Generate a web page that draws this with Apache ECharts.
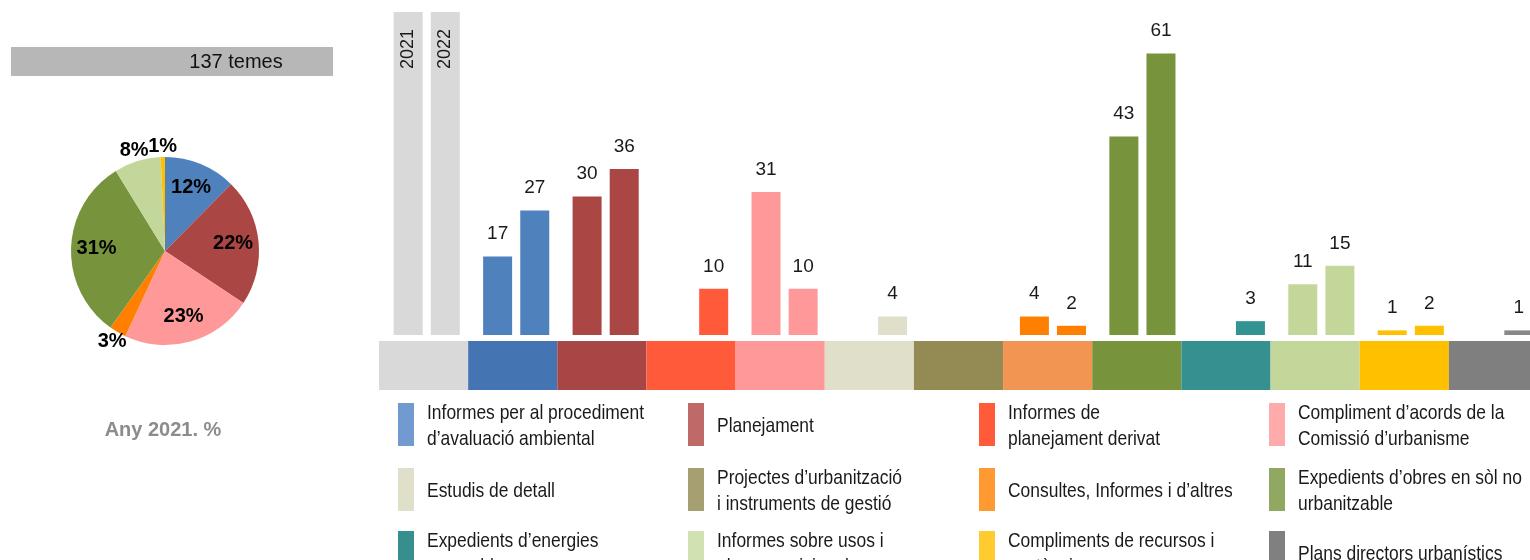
<!DOCTYPE html>
<html>
<head>
<meta charset="utf-8">
<script src="https://cdn.jsdelivr.net/npm/echarts@6/dist/echarts.min.js"></script>
<style>
html,body{margin:0;padding:0;background:#fff;}
#chart{width:1530px;height:560px;}
</style>
</head>
<body>
<div id="chart"></div>
<script>
// ---- data ----
const categories = [
  'Informes per al procediment\nd’avaluació ambiental',
  'Planejament',
  'Informes de\nplanejament derivat',
  'Compliment d’acords de la\nComissió d’urbanisme',
  'Estudis de detall',
  'Projectes d’urbanització\ni instruments de gestió',
  'Consultes, Informes i d’altres',
  'Expedients d’obres en sòl no\nurbanitzable',
  'Expedients d’energies\nrenovables',
  'Informes sobre usos i\nobres provisionals',
  'Compliments de recursos i\nsentències',
  'Plans directors urbanístics'
];
const years = ['2021', '2022'];
const values2021 = [17, 30, 0, 31, 0, 0, 4, 43, 0, 11, 1, 0];
const values2022 = [27, 36, 10, 10, 4, 0, 2, 61, 3, 15, 2, 1];
const yearKeyHeight = 70;   // height of the grey year-key bars
const pieTitle = 'Any 2021. %';

// ---- colours ----
const barColors   = ['#4f81bd','#aa4644','#ff5b3b','#ff9999','#e0dfca','#948a54','#ff8000','#77933c','#339393','#c4d79b','#ffc000','#888888'];
const stripColors = ['#d9d9d9','#4475b2','#a84646','#ff5b3b','#ff9999','#e0dfca','#948a54','#f29452','#77933c','#35908f','#c4d79b','#ffc000','#7f7f7f'];
const legendColors= ['#709ad0','#bf6a69','#ff5b3b','#ffabab','#e0dfca','#a59f72','#ff9a33','#91a862','#378f8d','#d2e1b1','#ffcb2e','#808080'];
const keyColor = '#d9d9d9';

const SANS = '"Liberation Sans", Arial, sans-serif';
const axisCats = [''].concat(categories);

function barSeries(yi, vals) {
  const data = [{
    value: yearKeyHeight,
    itemStyle: { color: keyColor },
    label: {
      show: true, formatter: years[yi], rotate: 90,
      position: ['50%', 37], align: 'center', verticalAlign: 'middle',
      fontSize: 18, color: '#1a1a1a', fontFamily: SANS
    }
  }].concat(vals.map((v, i) => ({ value: v, itemStyle: { color: barColors[i] } })));
  return {
    type: 'bar', name: years[yi], xAxisIndex: 0, yAxisIndex: 0,
    barWidth: 29, barGap: '28%', data: data,
    label: {
      show: true, position: 'top', distance: 13,
      formatter: p => (p.value > 0 ? String(p.value) : ''),
      fontSize: 19, color: '#1a1a1a', fontFamily: SANS
    },
    silent: true
  };
}

const total2021 = values2021.reduce((a, b) => a + b, 0);
const pieData = [];
values2021.forEach((v, i) => { if (v > 0) pieData.push({ name: categories[i], value: v, itemStyle: { color: barColors[i] } }); });
const pieDataClear = pieData.map(d => ({ name: d.name, value: d.value }));

const pieCenter = [165, 251];
const pieLabelStyle = { fontSize: 20, fontWeight: 'bold', color: '#000', fontFamily: SANS };

// legend graphics
const legendGraphics = [];
const colSwatchX = [398, 688, 979, 1269];
const rowSwatchY = [403, 468, 531];
categories.forEach((c, i) => {
  const col = i % 4, row = Math.floor(i / 4);
  legendGraphics.push({
    type: 'rect', shape: { x: colSwatchX[col], y: rowSwatchY[row], width: 16, height: 43 },
    style: { fill: legendColors[i] }, silent: true
  });
  legendGraphics.push({
    type: 'text', x: colSwatchX[col] + 29, y: rowSwatchY[row] + 23, scaleX: 0.83,
    style: { text: c, fontSize: 21, lineHeight: 26, fontFamily: SANS, fill: '#1a1a1a', verticalAlign: 'middle', align: 'left' },
    silent: true
  });
});

const option = {
  animation: false,
  backgroundColor: '#fff',
  grid: [
    { left: 382, top: 12, width: 1163, height: 323, outerBoundsMode: 'none' },
    { left: 379, top: 341, width: 1159, height: 49, outerBoundsMode: 'none' }
  ],
  xAxis: [
    { type: 'category', gridIndex: 0, data: axisCats, axisLine: { show: false }, axisTick: { show: false }, axisLabel: { show: false } },
    { type: 'category', gridIndex: 1, data: axisCats, axisLine: { show: false }, axisTick: { show: false }, axisLabel: { show: false } }
  ],
  yAxis: [
    { type: 'value', gridIndex: 0, min: 0, max: yearKeyHeight, show: false, splitLine: { show: false } },
    { type: 'value', gridIndex: 1, min: 0, max: 1, show: false, splitLine: { show: false } }
  ],
  series: [
    barSeries(0, values2021),
    barSeries(1, values2022),
    {
      type: 'bar', xAxisIndex: 1, yAxisIndex: 1, barWidth: '100%', silent: true,
      data: stripColors.map(c => ({ value: 1, itemStyle: { color: c } }))
    },
    {
      type: 'pie', center: pieCenter, radius: 94, startAngle: 90, clockwise: true,
      data: pieData, label: { show: false }, labelLine: { show: false }, silent: true
    },
    {
      type: 'pie', center: pieCenter, radius: 131, startAngle: 90, clockwise: true,
      data: pieDataClear, itemStyle: { color: 'rgba(0,0,0,0)' }, silent: true,
      label: Object.assign({ show: true, position: 'inside', formatter: p => (p.percent >= 10 ? Math.round(p.percent) + '%' : '') }, pieLabelStyle),
      labelLine: { show: false }, labelLayout: { hideOverlap: false }
    },
    {
      type: 'pie', center: pieCenter, radius: 204, startAngle: 90, clockwise: true,
      data: pieDataClear, itemStyle: { color: 'rgba(0,0,0,0)' }, silent: true,
      label: Object.assign({ show: true, position: 'inside', formatter: p => (p.percent < 10 ? Math.round(p.percent) + '%' : '') }, pieLabelStyle),
      labelLine: { show: false }, labelLayout: { hideOverlap: false }
    }
  ],
  graphic: [
    { type: 'rect', shape: { x: 11, y: 47, width: 322, height: 29 }, style: { fill: '#b7b7b7' }, silent: true },
    { type: 'text', x: 236, y: 62, style: { text: total2021 + ' temes', fontSize: 20, fontFamily: SANS, fill: '#111', align: 'center', verticalAlign: 'middle' }, silent: true },
    { type: 'text', x: 163, y: 430, style: { text: pieTitle, fontSize: 20, fontWeight: 'bold', fontFamily: SANS, fill: '#8c8c8c', align: 'center', verticalAlign: 'middle' }, silent: true }
  ].concat(legendGraphics)
};

const chart = echarts.init(document.getElementById('chart'), null, { renderer: 'canvas' });
chart.setOption(option);
</script>
</body>
</html>
